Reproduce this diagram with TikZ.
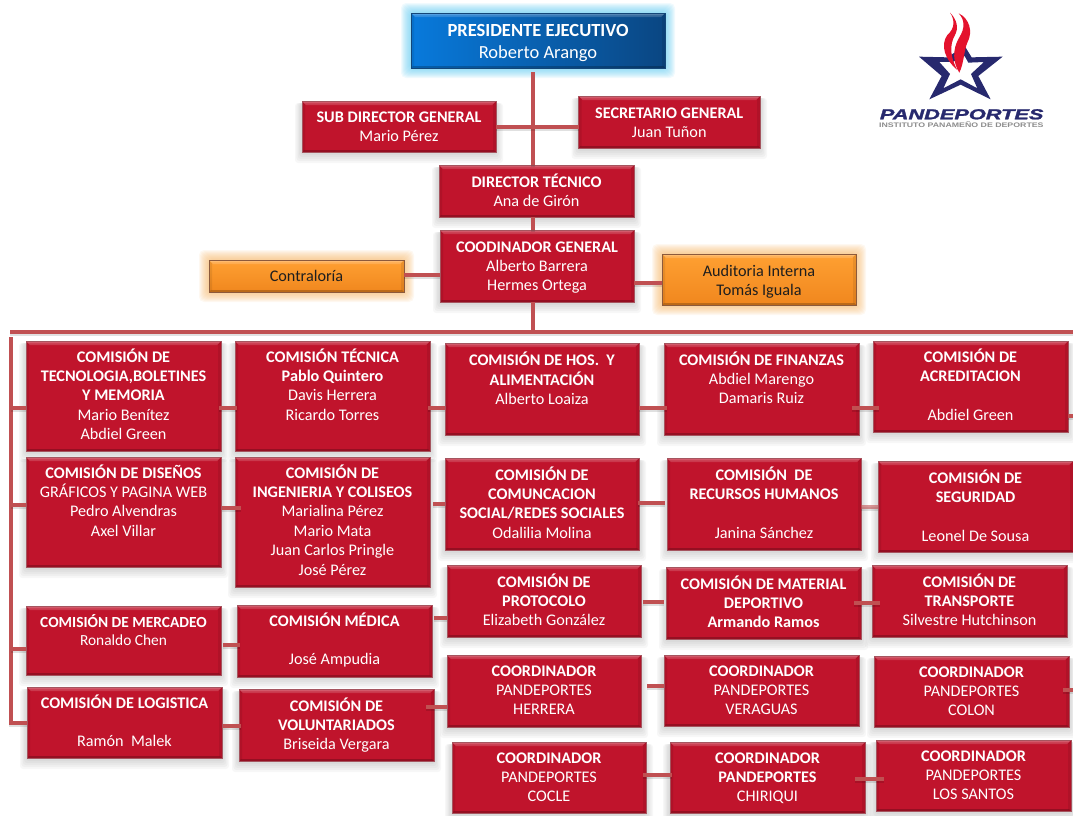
\documentclass[tikz,border=0pt]{standalone}
\usepackage{fontspec}
\setmainfont{Carlito}
\newfontfamily\logofont[BoldItalicFeatures={FakeBold=1.5}]{Liberation Sans}
\newfontfamily\logosubfont{Liberation Sans}
\usetikzlibrary{calc}
\pgfdeclarelayer{bg}
\pgfsetlayers{bg,main}
\definecolor{boxred}{RGB}{192,20,44}
\definecolor{connred}{RGB}{192,80,82}
\definecolor{edgered}{RGB}{165,85,95}
\definecolor{glowblue}{RGB}{90,200,240}
\definecolor{gloworange}{RGB}{245,180,100}
\definecolor{navy}{RGB}{39,41,110}
\definecolor{flame}{RGB}{228,18,45}
\tikzset{
  bevel/.style={path picture={
    \def\tl{path picture bounding box.north west}
    \def\tr{path picture bounding box.north east}
    \def\bl{path picture bounding box.south west}
    \def\br{path picture bounding box.south east}
    \fill[white,opacity=.3] (\tl) -- (\tr) -- ([xshift=-2pt,yshift=-2pt]\tr) -- ([xshift=2pt,yshift=-2pt]\tl) -- cycle;
    \fill[white,opacity=.16] ([xshift=2pt,yshift=-2pt]\tl) -- ([xshift=-2pt,yshift=-2pt]\tr) -- ([xshift=-4pt,yshift=-4pt]\tr) -- ([xshift=4pt,yshift=-4pt]\tl) -- cycle;
    \fill[black,opacity=.08] (\tl) -- ([xshift=3pt,yshift=-3pt]\tl) -- ([xshift=3pt,yshift=2pt]\bl) -- (\bl) -- cycle;
    \fill[black,opacity=.08] (\tr) -- ([xshift=-3pt,yshift=-3pt]\tr) -- ([xshift=-3pt,yshift=2pt]\br) -- (\br) -- cycle;
    \fill[black,opacity=.22] (\bl) -- (\br) -- ([xshift=-2pt,yshift=2pt]\br) -- ([xshift=2pt,yshift=2pt]\bl) -- cycle;
  }},
  basebox/.style={inner sep=0pt,outer sep=0pt,text=white,line width=.7pt,bevel},
  redbox/.style={basebox,fill=boxred,draw=edgered},
  presbox/.style={basebox,left color={rgb,255:red,8;green,122;blue,220},right color={rgb,255:red,10;green,70;blue,130},draw={rgb,255:red,20;green,70;blue,120}},
  orangebox/.style={basebox,text={rgb,255:red,30;green,30;blue,30},top color={rgb,255:red,255;green,160;blue,50},bottom color={rgb,255:red,240;green,135;blue,30},draw={rgb,255:red,140;green,90;blue,60}},
  conn/.style={draw=connred,line width=4pt,preaction={draw=black,draw opacity=.12,line width=4pt,transform canvas={yshift=-2pt}}},
}
% #1 font size, #2 style, #3-#6 x1 y1 x2 y2, #7 name, #8 centre y of first line, #9 text
\newcommand{\orgbox}[9][16.2]{%
  \pgfmathsetlengthmacro{\bw}{#5-#3}%
  \pgfmathsetlengthmacro{\bh}{#6-#4}%
  \pgfmathsetmacro{\bx}{(#3+#5)/2}%
  \pgfmathsetmacro{\by}{(#4+#6)/2}%
  \pgfmathsetlengthmacro{\off}{#8-#4-8.5}%
  \node[#2] (#7) at (\bx,\by) {\parbox[c][\bh][t]{\bw}{\centering\vspace*{\off}\fontsize{#1}{19.4}\selectfont\strut #9\par}};%
}
\newcommand{\softshadow}[4]{%
  \begin{pgfonlayer}{bg}
    \foreach \i in {10,8,6,4,2}{
      \fill[black,opacity=.03,rounded corners=3pt] ({#1-\i*.7},{#2+2}) rectangle ({#3+\i*.7},{#4+\i+1});
    }
  \end{pgfonlayer}%
}
\newcommand{\softglow}[5]{%
  \begin{pgfonlayer}{bg}
    \foreach \i in {10,9,...,1}{
      \fill[#5,opacity=.09,rounded corners=5pt] ({#1-\i},{#2-\i}) rectangle ({#3+\i},{#4+\i});
    }
  \end{pgfonlayer}%
}
\newcommand{\rbox}[7]{\softshadow{#2}{#3}{#4}{#5}\orgbox{redbox}{#2}{#3}{#4}{#5}{#1}{#6}{#7}}
\newcommand{\link}[5]{\draw[conn] ([xshift=#4pt]#1.east |- 0,#3) -- ([xshift=#5pt]#2.west |- 0,#3);}
\newcommand{\B}[1]{{\bfseries #1}}
\begin{document}
\begin{tikzpicture}[x=1pt,y=-1pt]
\clip (0,0) rectangle (1073,815);
% upper hierarchy
\softglow{411}{13}{665}{68}{glowblue}
\orgbox[18.5]{presbox}{411}{13}{665}{68}{pres}{31}{\B{PRESIDENTE EJECUTIVO}\\[2.8pt]Roberto Arango}
\rbox{sub}{302}{101}{496}{152}{117}{\B{SUB DIRECTOR GENERAL}\\Mario Pérez}
\rbox{sec}{578.5}{96}{760}{148}{113}{\B{SECRETARIO GENERAL}\\Juan Tuñon}
\rbox{dir}{439}{165}{634}{217}{182}{\B{DIRECTOR TÉCNICO}\\Ana de Girón}
\rbox{coord}{440}{230}{634}{302}{247}{\B{COODINADOR GENERAL}\\Alberto Barrera\\Hermes Ortega}
\softglow{209}{260}{404}{292}{gloworange}
\orgbox{orangebox}{209}{260}{404}{292}{contra}{276}{Contraloría}
\softglow{662}{254}{856}{305}{gloworange}
\orgbox{orangebox}{662}{254}{856}{305}{aud}{271}{Auditoria Interna\\Tomás Iguala}
% column 1
\rbox{tec1}{26}{341}{221}{451}{357}{\B{COMISIÓN DE}\\\B{TECNOLOGIA,BOLETINES}\\\B{Y MEMORIA}\\Mario Benítez\\Abdiel Green}
\rbox{dis}{26}{457}{221}{567}{473}{\B{COMISIÓN DE DISEÑOS}\\GRÁFICOS Y PAGINA WEB\\Pedro Alvendras\\Axel Villar}
\rbox{merc}{26}{606}{221}{675}{622}{\fontsize{15.4}{19.4}\selectfont\B{COMISIÓN DE MERCADEO}\\[-1pt]Ronaldo Chen}
\rbox{logi}{27}{687}{222}{758}{703}{\B{COMISIÓN DE LOGISTICA}\\~\\Ramón\ \ Malek}
% column 2
\rbox{tecn}{235}{341}{430}{451}{357}{\B{COMISIÓN TÉCNICA}\\\B{Pablo Quintero}\\Davis Herrera\\Ricardo Torres}
\rbox{ing}{235}{457}{430}{587}{473}{\B{COMISIÓN DE}\\\B{INGENIERIA Y COLISEOS}\\Marialina Pérez\\Mario Mata\\Juan Carlos Pringle\\José Pérez}
\rbox{med}{237}{605}{432}{677}{621}{\B{COMISIÓN MÉDICA}\\~\\José Ampudia}
\rbox{vol}{239}{689}{434}{761}{706}{\B{COMISIÓN DE}\\\B{VOLUNTARIADOS}\\Briseida Vergara}
% column 3
\rbox{hos}{445}{343}{639}{435}{360}{\B{COMISIÓN DE HOS.\ \ Y}\\\B{ALIMENTACIÓN}\\Alberto Loaiza}
\rbox{com}{445}{458}{639}{550}{475}{\B{COMISIÓN DE}\\\B{COMUNCACION}\\\B{SOCIAL/REDES SOCIALES}\\Odalilia Molina}
\rbox{prot}{447}{565}{641}{637}{582}{\B{COMISIÓN DE}\\\B{PROTOCOLO}\\Elizabeth González}
\rbox{herr}{447}{655}{641}{727}{671}{\B{COORDINADOR}\\PANDEPORTES\\HERRERA}
\rbox{coc}{452}{742}{646}{813}{758}{\B{COORDINADOR}\\PANDEPORTES\\COCLE}
% column 4
\rbox{fin}{664}{343}{859}{435}{360}{\B{COMISIÓN DE FINANZAS}\\Abdiel Marengo\\Damaris Ruiz}
\rbox{rrhh}{667}{458}{861}{550}{475}{\B{COMISIÓN\ \ DE}\\\B{RECURSOS HUMANOS}\\~\\Janina Sánchez}
\rbox{mat}{666}{567}{861}{639}{584}{\B{COMISIÓN DE MATERIAL}\\\B{DEPORTIVO}\\\B{Armando Ramos}}
\rbox{ver}{664}{655}{859}{726}{671}{\B{COORDINADOR}\\PANDEPORTES\\VERAGUAS}
\rbox{chi}{670}{742}{865}{813}{758}{\B{COORDINADOR}\\\B{PANDEPORTES}\\CHIRIQUI}
% column 5
\rbox{acr}{873}{341}{1068}{432}{357}{\B{COMISIÓN DE}\\\B{ACREDITACION}\\~\\Abdiel Green}
\rbox{seg}{878}{461}{1073}{552}{478}{\B{COMISIÓN DE}\\\B{SEGURIDAD}\\~\\Leonel De Sousa}
\rbox{tra}{872}{565}{1067}{637}{582}{\B{COMISIÓN DE}\\\B{TRANSPORTE}\\Silvestre Hutchinson}
\rbox{col}{874}{656}{1069}{727}{672}{\B{COORDINADOR}\\PANDEPORTES\\COLON}
\rbox{san}{876}{740}{1071}{811}{756}{\B{COORDINADOR}\\PANDEPORTES\\LOS SANTOS}
% connector anchors
\coordinate (trunk) at (533,332);
\coordinate (busL) at (10,332);
\coordinate (busR) at (1073,332);
\coordinate (busT) at (10.5,337);
\coordinate (busB) at (10.5,723);
\coordinate (edgeR) at (1073,408);
% upper connectors
\draw[conn] ([yshift=-4pt]pres.south -| trunk) -- (dir.north -| trunk);
\draw[conn] (sub.east |- 0,127) -- (sec.west |- 0,127);
\draw[conn] (dir.south -| trunk) -- (coord.north -| trunk);
\draw[conn] (coord.south -| trunk) -- (trunk);
\draw[conn] (contra.east |- 0,275) -- (coord.west |- 0,275);
\draw[conn] (coord.east |- 0,283) -- (aud.west |- 0,283);
% buses
\draw[conn] (busL) -- (busR);
\draw[conn] (busT) -- (busB) -- (logi.west |- busB);
\draw[conn] (busT |- 0,408) -- (tec1.west |- 0,408);
\draw[conn] (busT |- 0,505) -- (dis.west |- 0,505);
\draw[conn] (busT |- 0,649) -- (merc.west |- 0,649);
% row links
\link{tec1}{tecn}{408}{-2}{2}
\link{tecn}{hos}{408}{-2}{0}
\link{hos}{fin}{408}{0}{3}
\link{fin}{acr}{408}{-7}{6}
\draw[conn] (acr.east |- 0,416) -- (edgeR |- 0,416);
\link{dis}{ing}{508}{1}{6}
\link{ing}{com}{504}{3}{0}
\link{com}{rrhh}{503}{-1}{-2}
\draw[conn,draw opacity=.6] (rrhh.east |- 0,507) -- (seg.west |- 0,507);
\link{merc}{med}{645}{2}{3}
\link{med}{prot}{618}{2}{0}
\link{prot}{mat}{602}{2}{-2}
\link{mat}{tra}{603}{-7}{8}
\link{logi}{vol}{726}{1}{2}
\link{vol}{herr}{707}{-8}{0}
\link{herr}{ver}{686}{6}{0}
\draw[conn] ([xshift=-6pt]col.east |- 0,690) -- (edgeR |- 0,690);
\link{coc}{chi}{775}{-3}{2}
\link{chi}{san}{779}{-10}{8}
% logo
\begin{scope}[shift={(860,0)},x=.3333pt,y=-.3333pt]
  \fill[navy,even odd rule]
    (177,170) -- (262,172) -- (314,138) -- (335,172) -- (428,170) -- (355,228) -- (392,298) -- (302,254) -- (208,298) -- (245,228) -- cycle
    (238,186) -- (278,186) -- (314,168) -- (325,188) -- (372,186) -- (333,222) -- (352,265) -- (302,238) -- (250,265) -- (270,222) -- cycle;
  \fill[flame] (270,38) .. controls (292,60) and (296,85) .. (285,105) .. controls (268,135) and (270,170) .. (292,210) .. controls (255,180) and (240,135) .. (262,105) .. controls (285,85) and (285,60) .. (270,38) -- cycle;
  \fill[flame] (296,40) .. controls (328,55) and (340,95) .. (322,128) .. controls (312,150) and (312,190) .. (298,218) .. controls (280,190) and (275,150) .. (298,112) .. controls (315,85) and (315,60) .. (296,40) -- cycle;
  \node[inner sep=0pt,text=navy,font=\logofont\bfseries\itshape\fontsize{14.5}{15}\selectfont,xscale=1.5] (logoname) at (305,343) {PANDEPORTES};
  \node[inner sep=0pt,text=black!45,font=\logosubfont\bfseries\fontsize{6.6}{7}\selectfont,xscale=1.33] (logosub) at (304,373) {INSTITUTO PANAMEÑO DE DEPORTES};
\end{scope}
\end{tikzpicture}
\end{document}
